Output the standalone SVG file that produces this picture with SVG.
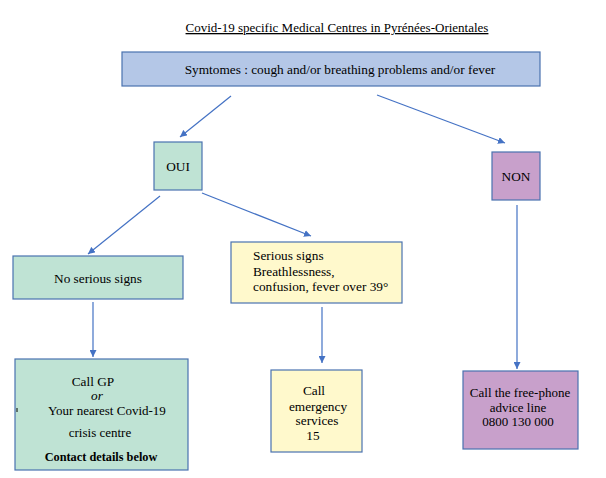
<svg xmlns="http://www.w3.org/2000/svg" width="606" height="478" viewBox="0 0 606 478" font-family="'Liberation Serif', 'DejaVu Serif', serif">
<defs>
<marker id="ah" viewBox="0 0 10 10" refX="10" refY="5" markerWidth="7" markerHeight="7" markerUnits="userSpaceOnUse" orient="auto"><path d="M0,0 L10,5 L0,10 z" fill="#4472c4"/></marker>
<style>
text{font-family:'Liberation Serif','DejaVu Serif',serif;font-size:13.3px;fill:#000}
.c{text-anchor:middle}
.box{stroke:#4a72b0;stroke-width:1.2}
.blue{fill:#b4c7e7}.green{fill:#bfe3d4}.yellow{fill:#fff9cc}.purple{fill:#c8a0cb}
.con line{stroke:#4472c4;stroke-width:1.2;marker-end:url(#ah)}
</style>
</defs>
<rect width="606" height="478" fill="#fff"/>
<g id="title"><text class="c" x="337" y="32" text-decoration="underline" style="font-size:13px">Covid-19 specific Medical Centres in Pyrénées-Orientales</text></g>
<g id="symptoms"><rect class="box blue" x="122" y="52" width="418" height="34"/><text class="c" x="340" y="74">Symtomes : cough and/or breathing problems and/or fever</text></g>
<g id="oui"><rect class="box green" x="154" y="142" width="48" height="48"/><text class="c" x="178" y="171">OUI</text></g>
<g id="non"><rect class="box purple" x="492" y="152" width="48" height="48"/><text class="c" x="516" y="181">NON</text></g>
<g id="no-serious"><rect class="box green" x="13" y="256" width="170" height="43"/><text class="c" x="98" y="283">No serious signs</text></g>
<g id="serious"><rect class="box yellow" x="231" y="242" width="171" height="61"/><text x="253" y="260">Serious signs</text><text x="253" y="276">Breathlessness,</text><text x="253" y="291">confusion, fever over 39°</text></g>
<g id="call-gp"><rect class="box green" x="15" y="359" width="173" height="111"/><text class="c" x="93" y="386">Call GP</text><text class="c" x="97" y="400" font-style="italic">or</text><text x="48" y="415" style="font-size:13px">Your nearest Covid-19</text><text class="c" x="100" y="437" style="font-size:13px">crisis centre</text><text class="c" x="101" y="461" font-weight="bold" style="font-size:12.3px">Contact details below</text><line x1="17" y1="408" x2="17" y2="412" stroke="#000" stroke-width="1"/></g>
<g id="emergency"><rect class="box yellow" x="271" y="370" width="91" height="82"/><text class="c" x="314" y="395">Call</text><text class="c" x="318" y="411">emergency</text><text class="c" x="317" y="425">services</text><text class="c" x="313" y="440">15</text></g>
<g id="freephone"><rect class="box purple" x="463" y="371" width="115" height="78"/><text class="c" x="520" y="397" style="font-size:13px">Call the free-phone</text><text class="c" x="518" y="412" style="font-size:13px">advice line</text><text class="c" x="518" y="426" style="font-size:13px">0800 130 000</text></g>
<g id="connectors" class="con">
<line x1="231" y1="96" x2="180" y2="137"/>
<line x1="377" y1="95" x2="505" y2="143"/>
<line x1="160" y1="196" x2="88" y2="254"/>
<line x1="202" y1="193" x2="311" y2="236"/>
<line x1="93" y1="302" x2="93" y2="357"/>
<line x1="322" y1="307" x2="322" y2="363"/>
<line x1="517" y1="205" x2="517" y2="369"/>
</g>
</svg>
